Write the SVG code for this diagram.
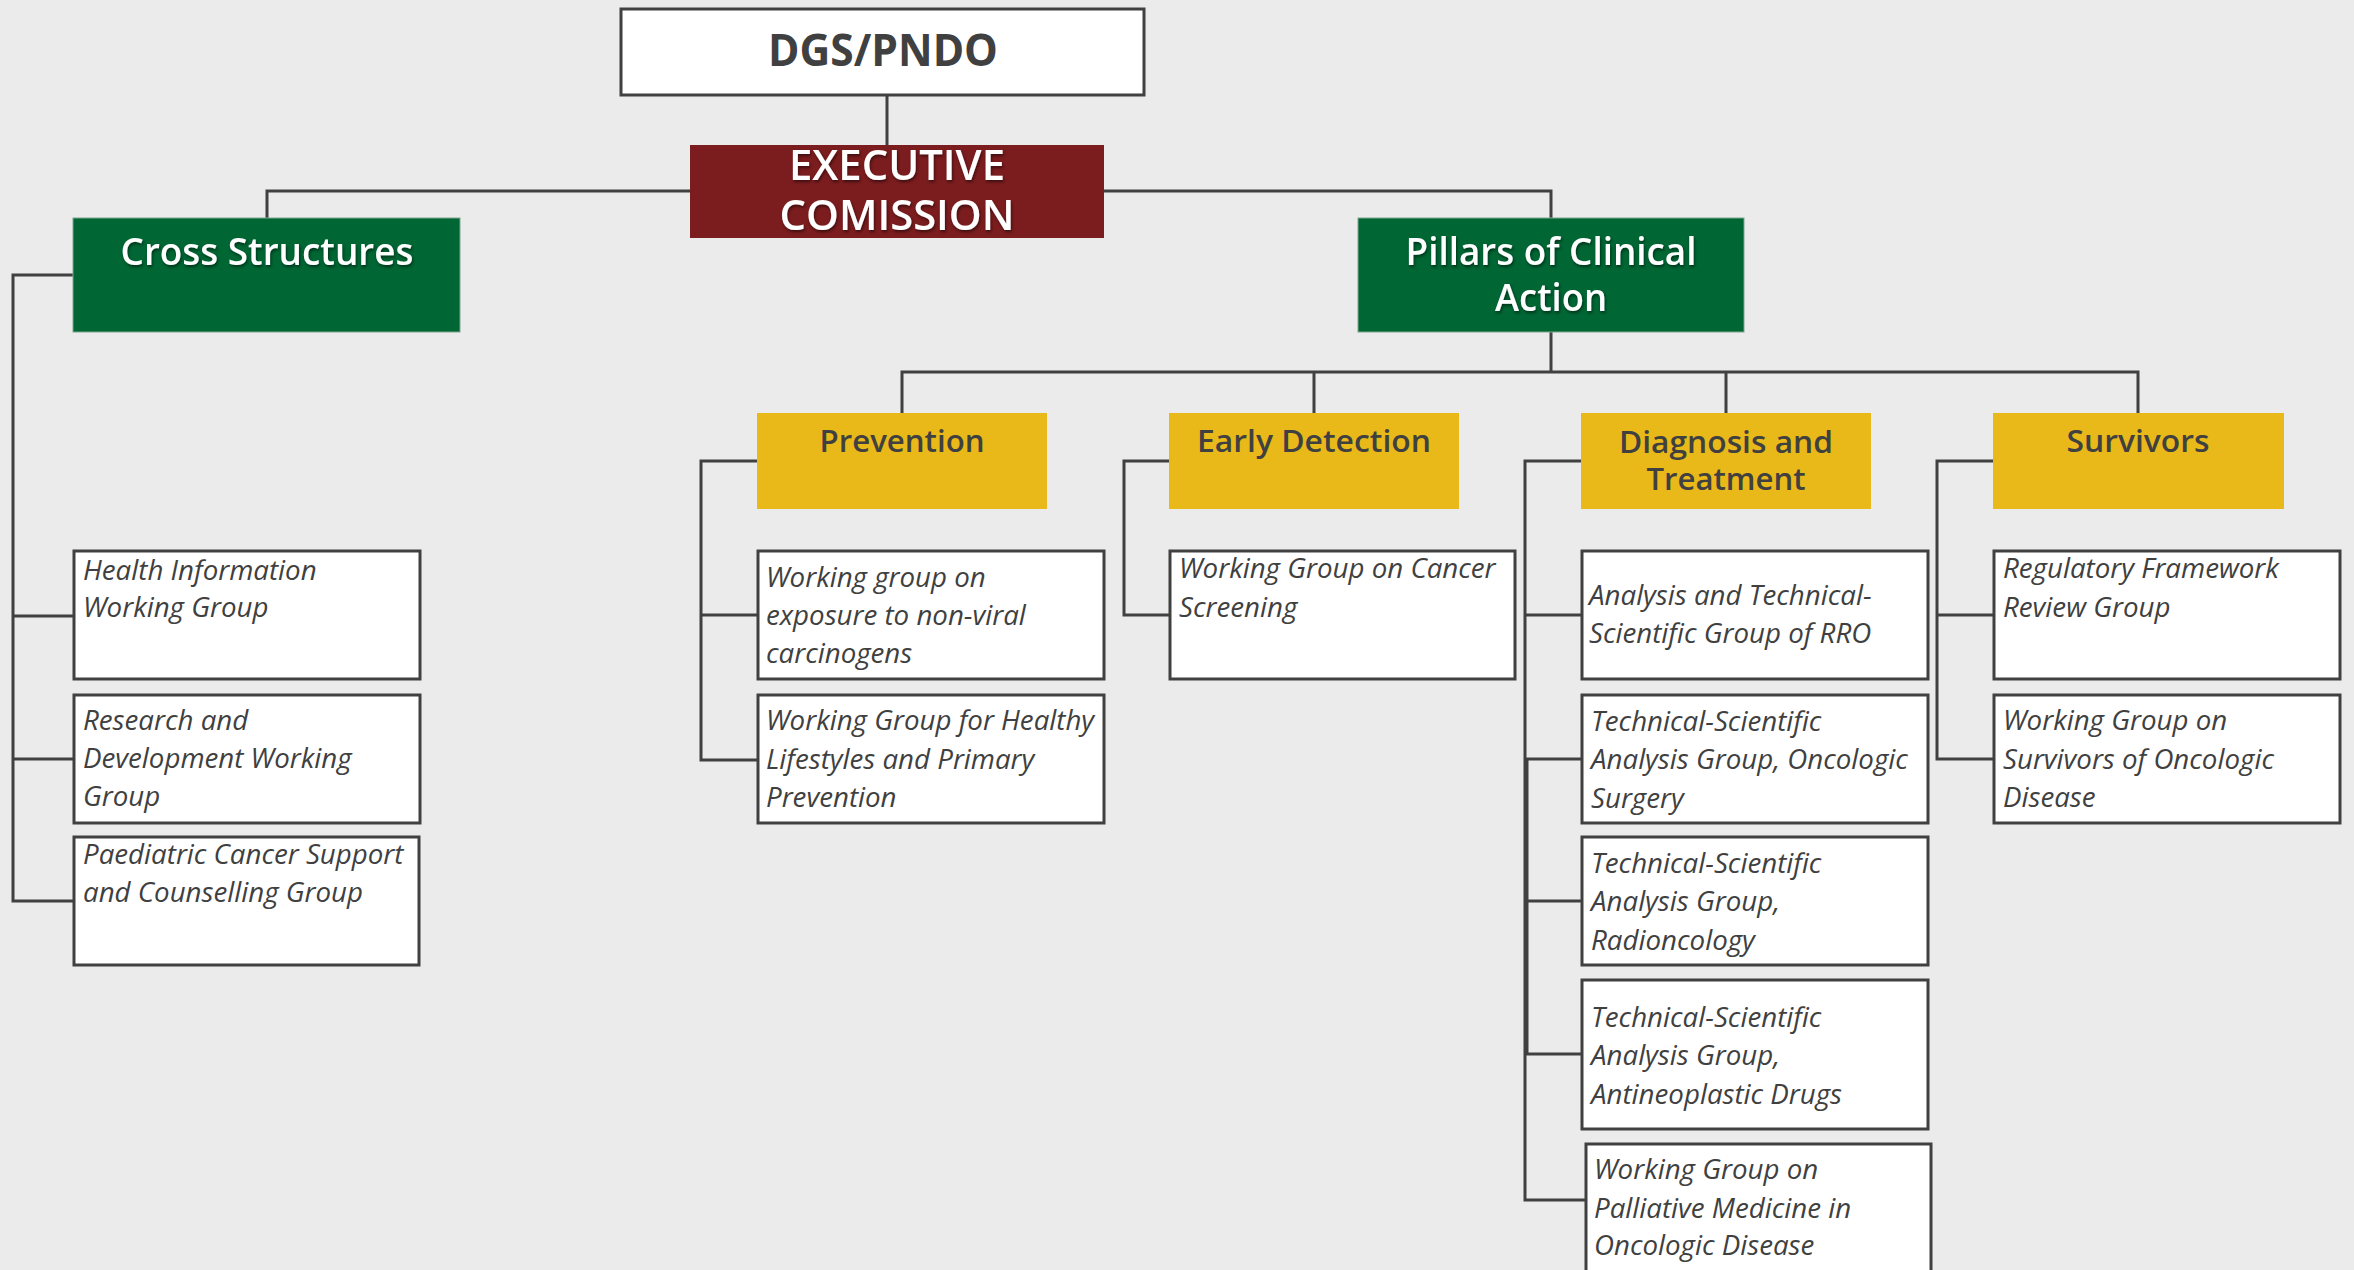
<svg xmlns="http://www.w3.org/2000/svg" width="2354" height="1270" viewBox="0 0 2354 1270">
<defs>
<filter id="glow" x="-10%" y="-20%" width="120%" height="140%">
<feDropShadow dx="1" dy="2" stdDeviation="1.5" flood-color="#000" flood-opacity="0.5"/>
</filter>
</defs>
<style>
.bg{fill:#EBEBEB}
.conn{fill:none;stroke:#404040;stroke-width:3}
.wbox{fill:#fff;stroke:#404040;stroke-width:3}
.green{fill:#006633;stroke:#7fa68f;stroke-width:1}
.red{fill:#7B1C1E}
.yellow{fill:#E9B919}
.h{font-family:"Open Sans","Noto Sans",sans-serif;text-anchor:middle}
.hw{fill:#fff;font-weight:600;font-size:37px}
.hy{fill:#404040;font-weight:600;font-size:31px}
.it{font-family:"Open Sans","Noto Sans",sans-serif;font-style:italic;font-size:27.7px;fill:#404040}
</style>
<rect class="bg" x="0" y="0" width="2354" height="1270"/>
<g id="connectors">
<path class="conn" d="M887,95 V145"/>
<path class="conn" d="M267,218 V191 H690 M1104,191 H1551 V218"/>
<path class="conn" d="M1551,332 V372 M902,413 V372 H2138 V413 M1314,372 V413 M1726,372 V413"/>
<path class="conn" d="M73,275 H13 V901 H73 M13,616 H73 M13,759 H73"/>
<path class="conn" d="M762,461 H701 V760 H758 M701,615 H758"/>
<path class="conn" d="M1169,461 H1124 V615 H1170"/>
<path class="conn" d="M1581,461 H1525 V1200 H1586 M1525,615 H1582 M1525,759 H1582 M1525,901 H1582 M1525,1054 H1582"/>
<path class="conn" d="M1527,759 V1054"/>
<path class="conn" d="M1998,461 H1937 V759 H1994 M1937,615 H1994"/>
</g>
<g id="dgs">
<rect class="wbox" x="621" y="9" width="523" height="86"/>
<text class="h" x="883" y="66" font-size="45" font-weight="700" fill="#404040" textLength="230" lengthAdjust="spacingAndGlyphs">DGS/PNDO</text>
</g>
<g id="executive">
<rect class="red" x="690" y="145" width="414" height="93"/>
<text class="h hw" x="897" y="180" filter="url(#glow)" textLength="216" lengthAdjust="spacingAndGlyphs" style="font-weight:600;font-size:41px">EXECUTIVE</text>
<text class="h hw" x="897" y="230" filter="url(#glow)" textLength="235" lengthAdjust="spacingAndGlyphs" style="font-weight:600;font-size:41px">COMISSION</text>
</g>
<g id="cross">
<rect class="green" x="73" y="218" width="387" height="114"/>
<text class="h hw" x="267" y="265" filter="url(#glow)" textLength="293" lengthAdjust="spacingAndGlyphs">Cross Structures</text>
</g>
<g id="pillars">
<rect class="green" x="1358" y="218" width="386" height="114"/>
<text class="h hw" x="1551" y="265" filter="url(#glow)" textLength="291" lengthAdjust="spacingAndGlyphs">Pillars of Clinical</text>
<text class="h hw" x="1551" y="311" filter="url(#glow)" textLength="112" lengthAdjust="spacingAndGlyphs">Action</text>
</g>
<g id="prevention">
<rect class="yellow" x="757" y="413" width="290" height="96"/>
<text class="h hy" x="902" y="452" textLength="165" lengthAdjust="spacingAndGlyphs">Prevention</text>
</g>
<g id="early">
<rect class="yellow" x="1169" y="413" width="290" height="96"/>
<text class="h hy" x="1314" y="452" textLength="234" lengthAdjust="spacingAndGlyphs">Early Detection</text>
</g>
<g id="diagnosis">
<rect class="yellow" x="1581" y="413" width="290" height="96"/>
<text class="h hy" x="1726" y="453" textLength="214" lengthAdjust="spacingAndGlyphs">Diagnosis and</text>
<text class="h hy" x="1726" y="490" textLength="159" lengthAdjust="spacingAndGlyphs">Treatment</text>
</g>
<g id="survivors">
<rect class="yellow" x="1993" y="413" width="291" height="96"/>
<text class="h hy" x="2138" y="452" textLength="143" lengthAdjust="spacingAndGlyphs">Survivors</text>
</g>
<g id="health-info">
<rect class="wbox" x="74" y="551" width="346" height="128"/>
<text class="it" x="83" y="580">Health Information</text>
<text class="it" x="83" y="617">Working Group</text>
</g>
<g id="research">
<rect class="wbox" x="74" y="695" width="346" height="128"/>
<text class="it" x="83" y="730">Research and</text>
<text class="it" x="83" y="768">Development Working</text>
<text class="it" x="83" y="806">Group</text>
</g>
<g id="paediatric">
<rect class="wbox" x="74" y="837" width="345" height="128"/>
<text class="it" x="83" y="864">Paediatric Cancer Support</text>
<text class="it" x="83" y="902">and Counselling Group</text>
</g>
<g id="non-viral">
<rect class="wbox" x="758" y="551" width="346" height="128"/>
<text class="it" x="766" y="587">Working group on</text>
<text class="it" x="766" y="625">exposure to non-viral</text>
<text class="it" x="766" y="663">carcinogens</text>
</g>
<g id="healthy-lifestyles">
<rect class="wbox" x="758" y="695" width="346" height="128"/>
<text class="it" x="766" y="730">Working Group for Healthy</text>
<text class="it" x="766" y="769">Lifestyles and Primary</text>
<text class="it" x="766" y="807">Prevention</text>
</g>
<g id="screening">
<rect class="wbox" x="1170" y="551" width="345" height="128"/>
<text class="it" x="1179" y="578">Working Group on Cancer</text>
<text class="it" x="1179" y="617">Screening</text>
</g>
<g id="rro">
<rect class="wbox" x="1582" y="551" width="346" height="128"/>
<text class="it" x="1589" y="605">Analysis and Technical-</text>
<text class="it" x="1589" y="643">Scientific Group of RRO</text>
</g>
<g id="surgery">
<rect class="wbox" x="1582" y="695" width="346" height="128"/>
<text class="it" x="1591" y="731">Technical-Scientific</text>
<text class="it" x="1591" y="769">Analysis Group, Oncologic</text>
<text class="it" x="1591" y="808">Surgery</text>
</g>
<g id="radioncology">
<rect class="wbox" x="1582" y="837" width="346" height="128"/>
<text class="it" x="1591" y="873">Technical-Scientific</text>
<text class="it" x="1591" y="911">Analysis Group,</text>
<text class="it" x="1591" y="950">Radioncology</text>
</g>
<g id="antineoplastic">
<rect class="wbox" x="1582" y="980" width="346" height="149"/>
<text class="it" x="1591" y="1027">Technical-Scientific</text>
<text class="it" x="1591" y="1065">Analysis Group,</text>
<text class="it" x="1591" y="1104">Antineoplastic Drugs</text>
</g>
<g id="palliative">
<rect class="wbox" x="1586" y="1144" width="345" height="150"/>
<text class="it" x="1594" y="1179">Working Group on</text>
<text class="it" x="1594" y="1218">Palliative Medicine in</text>
<text class="it" x="1594" y="1255">Oncologic Disease</text>
</g>
<g id="regulatory">
<rect class="wbox" x="1994" y="551" width="346" height="128"/>
<text class="it" x="2003" y="578">Regulatory Framework</text>
<text class="it" x="2003" y="617">Review Group</text>
</g>
<g id="survivors-wg">
<rect class="wbox" x="1994" y="695" width="346" height="128"/>
<text class="it" x="2003" y="730">Working Group on</text>
<text class="it" x="2003" y="769">Survivors of Oncologic</text>
<text class="it" x="2003" y="807">Disease</text>
</g>
</svg>
